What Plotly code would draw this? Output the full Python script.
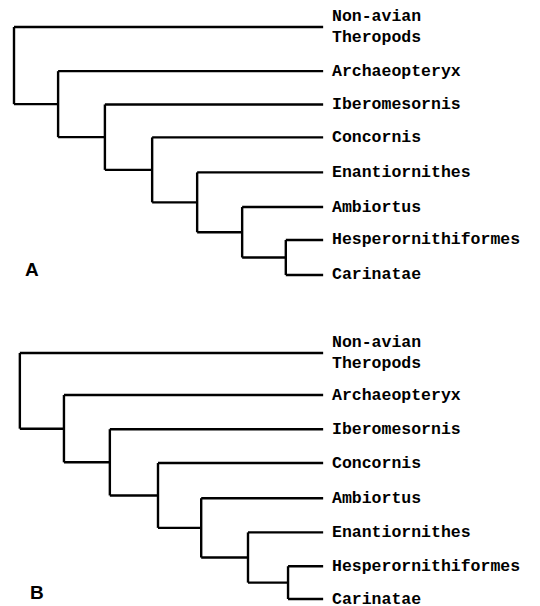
import plotly.graph_objects as go

# ---------------- data ----------------
# Tips listed top to bottom; ladder topology: node i joins tip i with node i+1,
# the last node joins the last two tips.
tips_A = ["Non-avian<br>Theropods", "Archaeopteryx", "Iberomesornis", "Concornis",
          "Enantiornithes", "Ambiortus", "Hesperornithiformes", "Carinatae"]
tip_rows_A = [0.0, 1.3, 2.28, 3.25, 4.28, 5.3, 6.27, 7.3]
node_depth_A = [0.0, 0.98, 2.02, 3.07, 4.07, 5.07, 6.04]

tips_B = ["Non-avian<br>Theropods", "Archaeopteryx", "Iberomesornis", "Concornis",
          "Ambiortus", "Enantiornithes", "Hesperornithiformes", "Carinatae"]
tip_rows_B = [0.0, 1.23, 2.23, 3.22, 4.25, 5.25, 6.24, 7.2]
node_depth_B = [0.13, 1.11, 2.13, 3.2, 4.16, 5.2, 6.09]

tip_depth = 6.87
panel_labels = ["A", "B"]


def ladder_segments(tip_rows, node_depth):
    n = len(node_depth)
    # node y: midpoint of its two children, from the bottom up
    node_y = [0.0] * n
    child_y = tip_rows[n]  # last tip
    for i in range(n - 1, -1, -1):
        node_y[i] = (tip_rows[i] + child_y) / 2.0
        child_y = node_y[i]
    xs, ys = [], []
    for i in range(n):
        lower = tip_rows[n] if i == n - 1 else node_y[i + 1]
        # vertical bar
        xs += [node_depth[i], node_depth[i], None]
        ys += [tip_rows[i], lower, None]
        # branch to upper tip
        xs += [node_depth[i], tip_depth, None]
        ys += [tip_rows[i], tip_rows[i], None]
        # branch to lower child
        lower_x = tip_depth if i == n - 1 else node_depth[i + 1]
        xs += [node_depth[i], lower_x, None]
        ys += [lower, lower, None]
    return xs, ys


fig = go.Figure()

panels = [(tips_A, tip_rows_A, node_depth_A, "y"), (tips_B, tip_rows_B, node_depth_B, "y2")]
for tips, rows, depths, yax in panels:
    xs, ys = ladder_segments(rows, depths)
    fig.add_trace(go.Scatter(x=xs, y=ys, mode="lines", yaxis=yax, xaxis="x",
                             line=dict(color="black", width=2.4),
                             hoverinfo="skip", showlegend=False))
    for name, r in zip(tips, rows):
        fig.add_annotation(x=tip_depth + 0.16, y=r, xref="x", yref=yax,
                           text=name, showarrow=False, xanchor="left", yanchor="middle",
                           align="left",
                           font=dict(family="Liberation Mono", size=16.5, color="black",
                                     weight="bold"))

W, H = 540, 606
fig.add_annotation(x=31.5 / W, y=1 - 270 / H, xref="paper", yref="paper", text=panel_labels[0],
                   showarrow=False, xanchor="center", yanchor="middle",
                   font=dict(family="Liberation Sans", size=19, color="black", weight="bold"))
fig.add_annotation(x=36.5 / W, y=1 - 592 / H, xref="paper", yref="paper", text=panel_labels[1],
                   showarrow=False, xanchor="center", yanchor="middle",
                   font=dict(family="Liberation Sans", size=19, color="black", weight="bold"))

xscale = 45.0
fig.update_layout(
    width=W, height=H,
    margin=dict(l=0, r=0, t=0, b=0),
    paper_bgcolor="white", plot_bgcolor="white",
    xaxis=dict(range=[-14 / xscale, (W - 14) / xscale], visible=False, fixedrange=True),
    yaxis=dict(domain=[1 - 300 / H, 1], range=[(300 - 27) / 33.97, -27 / 33.97],
               visible=False, fixedrange=True),
    yaxis2=dict(domain=[0, 1 - 303 / H], range=[(606 - 353) / 34.17, (303 - 353) / 34.17],
                visible=False, fixedrange=True),
)

fig.write_html("out.html", config={"displayModeBar": False},
               post_script="document.body.style.margin='0';document.body.style.overflow='hidden';")
